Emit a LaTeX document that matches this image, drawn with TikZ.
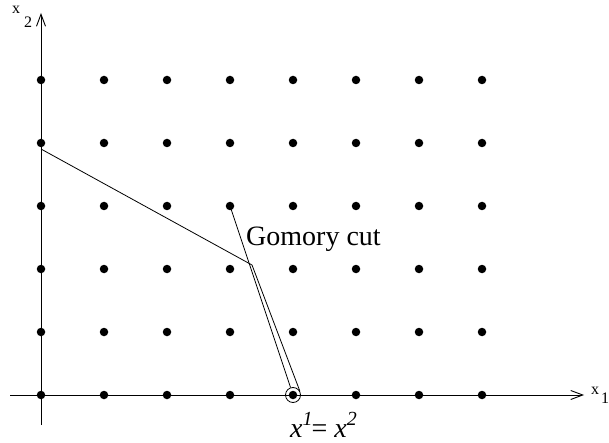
\documentclass[tikz,border=0pt]{standalone}
\usepackage{fontspec}
\setmainfont{Liberation Serif}
\usetikzlibrary{arrows.meta}
\begin{document}
\begin{tikzpicture}[x=1pt,y=-1pt,
  dot/.style={circle,fill=black,inner sep=0pt,minimum size=8.5pt},
  axis/.style={line width=0.9pt,-{Straight Barb[length=12pt,width=9pt,line width=0.9pt]}},
  thin line/.style={line width=0.8pt},
  lbl/.style={anchor=base west,inner sep=0pt,font=\fontsize{16}{18}\selectfont},
  big/.style={anchor=base west,inner sep=0pt,font=\fontsize{28}{32}\selectfont}]
\useasboundingbox (0,0) rectangle (609,443);
% axes
\coordinate (xs) at (10,395);
\coordinate (xe) at (584,395);
\coordinate (ys) at (41,425);
\coordinate (ye) at (41,13);
\draw[axis] (xs) -- (xe);
\draw[axis] (ys) -- (ye);
% grid of points
\foreach \i in {0,...,7}{
  \foreach \j in {0,...,5}{
    \node[dot] (p\i\j) at (41+63*\i,395-63*\j) {};
  }
}
% optimum circle
\node[circle,draw,line width=0.8pt,minimum size=15pt,inner sep=0pt] (opt) at (293,395) {};
% LP boundary
\coordinate (a) at (41,149);
\coordinate (k) at (252,265);
\draw[thin line] (a) -- (k) -- (opt.30);
% Gomory cut
\draw[thin line] (p33.center) -- (opt);
% labels
\node[big] (gc) at (246,246) {Gomory cut};
\node[big] (eq) at (290,437) {\textit{x}\raisebox{0.42em}{\fontsize{20}{22}\selectfont\itshape 1}\kern-1pt= \textit{x}\raisebox{0.42em}{\fontsize{20}{22}\selectfont\itshape 2}};
\node[lbl] (x1) at (591,394) {x};
\node[lbl] (x1s) at (601,403) {1};
\node[lbl] (x2) at (12,14) {x};
\node[lbl] (x2s) at (24,28) {2};
\end{tikzpicture}
\end{document}
